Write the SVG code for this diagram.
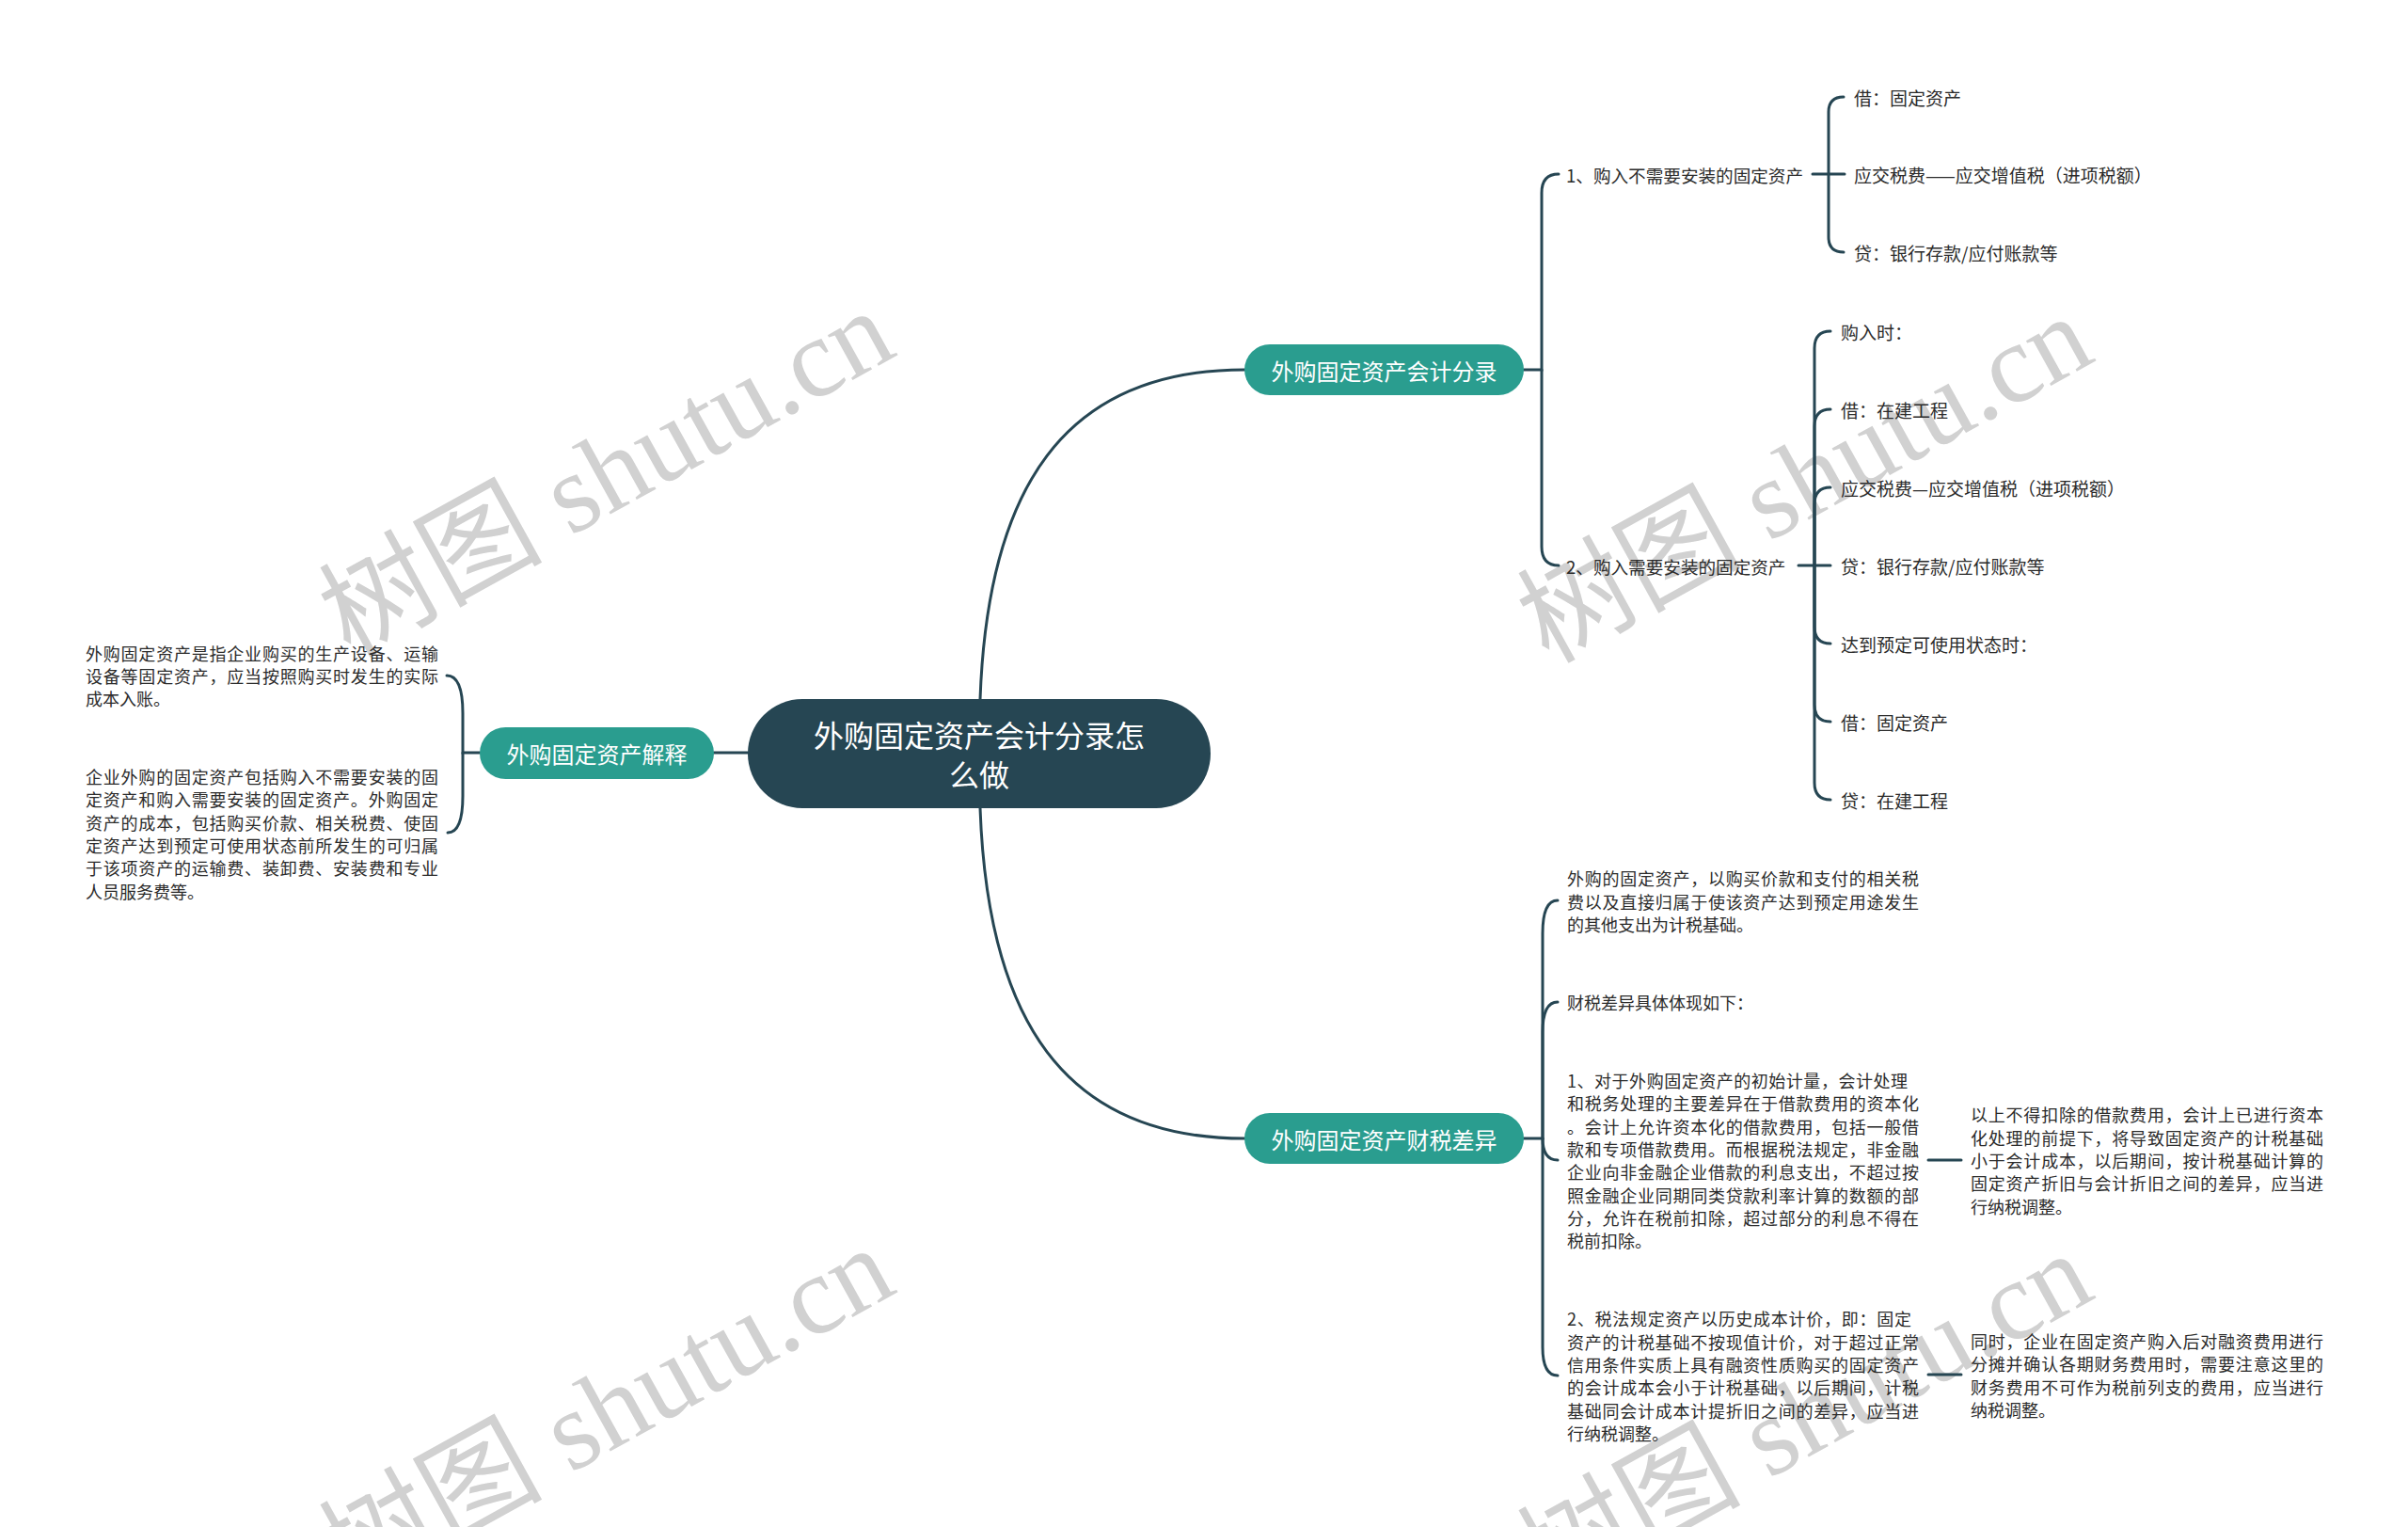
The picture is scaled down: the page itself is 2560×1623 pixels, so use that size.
<svg xmlns="http://www.w3.org/2000/svg" width="2560" height="1623" viewBox="0 0 2560 1623">
<style>
.wm{font-family:"Liberation Serif","Noto Sans CJK SC",serif;font-size:119px;fill:#c9c9c9;opacity:0.85}
.ln{fill:none;stroke:#264653;stroke-width:3;stroke-linecap:round}
.t{font-family:"Noto Sans CJK SC","Noto Sans",sans-serif;font-size:18px;fill:#2b2b2b;dominant-baseline:central}
.h{font-size:18.6px}
.lf{font-size:19px}
.nt{font-family:"Noto Sans CJK SC","Noto Sans",sans-serif;font-size:24px;fill:#ffffff;dominant-baseline:central;text-anchor:middle}
.ct{font-family:"Noto Sans CJK SC","Noto Sans",sans-serif;font-size:32px;fill:#ffffff;dominant-baseline:central;text-anchor:middle}
</style>
<rect width="2560" height="1623" fill="#ffffff"/>
<g id="watermarks">
<text class="wm" x="372" y="700" transform="rotate(-29 372 700)">树图 shutu.cn</text>
<text class="wm" x="1646" y="706" transform="rotate(-29 1646 706)">树图 shutu.cn</text>
<text class="wm" x="372" y="1696" transform="rotate(-29 372 1696)">树图 shutu.cn</text>
<text class="wm" x="1646" y="1702" transform="rotate(-29 1646 1702)">树图 shutu.cn</text>
</g>
<g id="connectors">
<path class="ln" d="M1042,743 C1050,520 1130,393 1323,393"/>
<path class="ln" d="M1042,859 C1050,1082 1130,1210 1323,1210"/>
<path class="ln" d="M759,800 H795"/>
<path class="ln" d="M1620,393 H1639 V205 Q1639,185 1657,185"/>
<path class="ln" d="M1639,393 V581 Q1639,601 1657,601"/>
<path class="ln" d="M1927,185 H1961"/>
<path class="ln" d="M1944,185 V119 Q1944,103 1960,103"/>
<path class="ln" d="M1944,185 V252 Q1944,268 1960,268"/>
<path class="ln" d="M1912,601 H1946"/>
<path class="ln" d="M1929,601 V370 Q1929,352 1946,352"/>
<path class="ln" d="M1929,601 V453 Q1929,435 1946,435"/>
<path class="ln" d="M1929,601 V536 Q1929,518 1946,518"/>
<path class="ln" d="M1929,601 V666 Q1929,684 1946,684"/>
<path class="ln" d="M1929,601 V749 Q1929,767 1946,767"/>
<path class="ln" d="M1929,601 V832 Q1929,850 1946,850"/>
<path class="ln" d="M1620,1210 H1640 V992 Q1640,957 1656,957"/>
<path class="ln" d="M1640,1210 V1097 Q1640,1065 1656,1065"/>
<path class="ln" d="M1640,1210 Q1640,1233 1656,1233"/>
<path class="ln" d="M1640,1210 V1432 Q1640,1462 1656,1462"/>
<path class="ln" d="M2050,1233 H2085"/>
<path class="ln" d="M2050,1461 H2085"/>
<path class="ln" d="M510,800 H492 V758 Q492,718 475,718"/>
<path class="ln" d="M492,800 V846 Q492,885 476,885"/>
</g>
<g id="root">
<rect x="795" y="743" width="492" height="116" rx="58" fill="#264653"/>
<text class="ct" x="1041" y="780">外购固定资产会计分录怎</text>
<text class="ct" x="1041" y="822">么做</text>
</g>
<g id="branch-entries">
<rect x="1323" y="366" width="297" height="54" rx="27" fill="#2a9d8f"/>
<text class="nt" x="1471.5" y="393">外购固定资产会计分录</text>
</g>
<g id="branch-tax">
<rect x="1323" y="1183" width="297" height="54" rx="27" fill="#2a9d8f"/>
<text class="nt" x="1471.5" y="1210">外购固定资产财税差异</text>
</g>
<g id="branch-explain">
<rect x="510" y="773" width="249" height="55" rx="27.5" fill="#2a9d8f"/>
<text class="nt" x="634.5" y="800.5">外购固定资产解释</text>
</g>
<g id="sub1">
<text class="t h" x="1665" y="185">1、购入不需要安装的固定资产</text>
</g>
<g id="sub1-leaves">
<text class="t lf" x="1971" y="103">借：固定资产</text>
<text class="t lf" x="1971" y="185">应交税费——应交增值税（进项税额）</text>
<text class="t lf" x="1971" y="268">贷：银行存款/应付账款等</text>
</g>
<g id="sub2">
<text class="t h" x="1665" y="601">2、购入需要安装的固定资产</text>
</g>
<g id="sub2-leaves">
<text class="t lf" x="1957" y="352">购入时：</text>
<text class="t lf" x="1957" y="435">借：在建工程</text>
<text class="t lf" x="1957" y="518">应交税费—应交增值税（进项税额）</text>
<text class="t lf" x="1957" y="601">贷：银行存款/应付账款等</text>
<text class="t lf" x="1957" y="684">达到预定可使用状态时：</text>
<text class="t lf" x="1957" y="767">借：固定资产</text>
<text class="t lf" x="1957" y="850">贷：在建工程</text>
</g>
<g id="explain-1">
<text class="t" x="91" y="693.5" textLength="375" lengthAdjust="spacing">外购固定资产是指企业购买的生产设备、运输</text>
<text class="t" x="91" y="717.8" textLength="375" lengthAdjust="spacing">设备等固定资产，应当按照购买时发生的实际</text>
<text class="t" x="91" y="742.1">成本入账。</text>
</g>
<g id="explain-2">
<text class="t" x="91" y="825" textLength="375" lengthAdjust="spacing">企业外购的固定资产包括购入不需要安装的固</text>
<text class="t" x="91" y="849.3" textLength="375" lengthAdjust="spacing">定资产和购入需要安装的固定资产。外购固定</text>
<text class="t" x="91" y="873.6" textLength="375" lengthAdjust="spacing">资产的成本，包括购买价款、相关税费、使固</text>
<text class="t" x="91" y="897.9" textLength="375" lengthAdjust="spacing">定资产达到预定可使用状态前所发生的可归属</text>
<text class="t" x="91" y="922.2" textLength="375" lengthAdjust="spacing">于该项资产的运输费、装卸费、安装费和专业</text>
<text class="t" x="91" y="946.5">人员服务费等。</text>
</g>
<g id="tax-basis">
<text class="t" x="1666" y="933.2" textLength="374" lengthAdjust="spacing">外购的固定资产，以购买价款和支付的相关税</text>
<text class="t" x="1666" y="957.5" textLength="374" lengthAdjust="spacing">费以及直接归属于使该资产达到预定用途发生</text>
<text class="t" x="1666" y="981.8">的其他支出为计税基础。</text>
</g>
<g id="tax-intro">
<text class="t" x="1666" y="1065">财税差异具体体现如下：</text>
</g>
<g id="tax-diff-1">
<text class="t" x="1666" y="1148" textLength="362" lengthAdjust="spacing">1、对于外购固定资产的初始计量，会计处理</text>
<text class="t" x="1666" y="1172.3" textLength="374" lengthAdjust="spacing">和税务处理的主要差异在于借款费用的资本化</text>
<text class="t" x="1666" y="1196.6" textLength="374" lengthAdjust="spacing">。会计上允许资本化的借款费用，包括一般借</text>
<text class="t" x="1666" y="1220.9" textLength="374" lengthAdjust="spacing">款和专项借款费用。而根据税法规定，非金融</text>
<text class="t" x="1666" y="1245.2" textLength="374" lengthAdjust="spacing">企业向非金融企业借款的利息支出，不超过按</text>
<text class="t" x="1666" y="1269.5" textLength="374" lengthAdjust="spacing">照金融企业同期同类贷款利率计算的数额的部</text>
<text class="t" x="1666" y="1293.8" textLength="374" lengthAdjust="spacing">分，允许在税前扣除，超过部分的利息不得在</text>
<text class="t" x="1666" y="1318.1">税前扣除。</text>
</g>
<g id="tax-diff-2">
<text class="t" x="1666" y="1401.3" textLength="366" lengthAdjust="spacing">2、税法规定资产以历史成本计价，即：固定</text>
<text class="t" x="1666" y="1425.6" textLength="374" lengthAdjust="spacing">资产的计税基础不按现值计价，对于超过正常</text>
<text class="t" x="1666" y="1449.9" textLength="374" lengthAdjust="spacing">信用条件实质上具有融资性质购买的固定资产</text>
<text class="t" x="1666" y="1474.2" textLength="374" lengthAdjust="spacing">的会计成本会小于计税基础，以后期间，计税</text>
<text class="t" x="1666" y="1498.5" textLength="374" lengthAdjust="spacing">基础同会计成本计提折旧之间的差异，应当进</text>
<text class="t" x="1666" y="1522.8">行纳税调整。</text>
</g>
<g id="tax-diff-1-note">
<text class="t" x="2095" y="1184.4" textLength="375" lengthAdjust="spacing">以上不得扣除的借款费用，会计上已进行资本</text>
<text class="t" x="2095" y="1208.7" textLength="375" lengthAdjust="spacing">化处理的前提下，将导致固定资产的计税基础</text>
<text class="t" x="2095" y="1233" textLength="375" lengthAdjust="spacing">小于会计成本，以后期间，按计税基础计算的</text>
<text class="t" x="2095" y="1257.3" textLength="375" lengthAdjust="spacing">固定资产折旧与会计折旧之间的差异，应当进</text>
<text class="t" x="2095" y="1281.6">行纳税调整。</text>
</g>
<g id="tax-diff-2-note">
<text class="t" x="2095" y="1425" textLength="375" lengthAdjust="spacing">同时，企业在固定资产购入后对融资费用进行</text>
<text class="t" x="2095" y="1449.3" textLength="375" lengthAdjust="spacing">分摊并确认各期财务费用时，需要注意这里的</text>
<text class="t" x="2095" y="1473.6" textLength="375" lengthAdjust="spacing">财务费用不可作为税前列支的费用，应当进行</text>
<text class="t" x="2095" y="1497.9">纳税调整。</text>
</g>
</svg>
